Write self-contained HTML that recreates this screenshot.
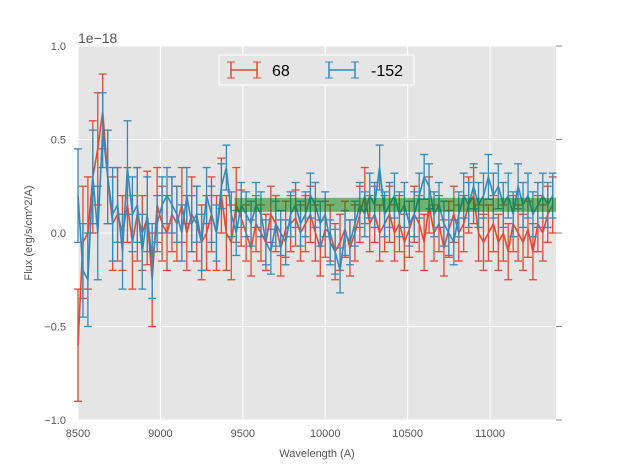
<!DOCTYPE html>
<html><head><meta charset="utf-8"><style>
body{margin:0;background:#fff;font-family:"Liberation Sans",sans-serif}
svg{display:block}
</style></head><body>
<svg id="chart" width="617" height="467" xmlns="http://www.w3.org/2000/svg">
<rect x="78" y="46" width="478" height="374" fill="#e5e5e5"/>
<g id="grid"></g><g id="series"></g><g id="axes"></g>
<text x="78" y="43" font-size="14" fill="#555">1e−18</text>
<text transform="translate(32,233) rotate(-90)" text-anchor="middle" font-size="11" fill="#555">Flux (erg/s/cm^2/A)</text>
<text x="317" y="457" text-anchor="middle" font-size="11" fill="#555">Wavelength (A)</text>
<g>
<rect x="219" y="55" width="195" height="30" fill="#e5e5e5" stroke="#fff" stroke-width="1"/>
<g>
<line x1="231" y1="70" x2="257" y2="70" stroke="#E24A33" stroke-width="1.5"/><line x1="231" y1="62" x2="231" y2="78" stroke="#E24A33" stroke-width="1.5"/><line x1="257" y1="62" x2="257" y2="78" stroke="#E24A33" stroke-width="1.5"/><line x1="227" y1="62" x2="235" y2="62" stroke="#E24A33"/><line x1="227" y1="78" x2="235" y2="78" stroke="#E24A33"/><line x1="253" y1="62" x2="261" y2="62" stroke="#E24A33"/><line x1="253" y1="78" x2="261" y2="78" stroke="#E24A33"/>
<text x="272" y="76" font-size="16" fill="#000">68</text></g>
<g>
<line x1="329" y1="70" x2="355" y2="70" stroke="#348ABD" stroke-width="1.5"/><line x1="329" y1="62" x2="329" y2="78" stroke="#348ABD" stroke-width="1.5"/><line x1="355" y1="62" x2="355" y2="78" stroke="#348ABD" stroke-width="1.5"/><line x1="325" y1="62" x2="333" y2="62" stroke="#348ABD"/><line x1="325" y1="78" x2="333" y2="78" stroke="#348ABD"/><line x1="351" y1="62" x2="359" y2="62" stroke="#348ABD"/><line x1="351" y1="78" x2="359" y2="78" stroke="#348ABD"/>
<text x="371" y="76" font-size="16" fill="#000">-152</text></g>
</g>
</svg>
<script>
const xTicks=[8500,9000,9500,10000,10500,11000];
const yTicks=[-1.0,-0.5,0.0,0.5,1.0];
const yTickLabels=["−1.0","−0.5","0.0","0.5","1.0"];
const wlStart=8500, wlEnd=11380;
const redVals=[-0.6,-0.05,0.0,0.3,0.45,0.65,0.3,0.05,0.1,0.0,0.15,-0.05,0.1,0.0,0.08,-0.25,0.15,0.05,0.0,0.1,0.05,0.15,0.0,0.1,0.05,-0.05,0.0,0.1,0.0,0.2,0.0,-0.05,0.15,0.08,0.0,-0.08,0.05,0.0,-0.05,0.1,0.05,-0.08,0.02,0.05,0.08,0.0,0.05,0.1,0.0,-0.08,0.02,0.0,-0.1,-0.05,0.02,-0.08,0.0,0.1,0.2,0.05,0.1,0.0,0.05,0.1,0.0,0.05,-0.05,0.02,0.1,0.05,-0.05,0.15,0.0,0.05,-0.08,0.02,0.1,0.0,0.05,0.15,0.2,0.0,-0.05,0.0,0.05,-0.05,0.0,-0.1,0.05,0.0,-0.05,0.02,-0.1,0.05,0.0,0.1,0.15];
const blueVals=[0.2,-0.2,-0.25,0.3,0.0,0.55,0.3,0.1,0.15,-0.1,0.35,0.1,0.15,-0.1,0.1,-0.15,0.05,0.15,0.2,0.15,0.1,0.0,0.2,0.05,0.1,-0.05,0.2,0.1,0.0,0.25,0.35,0.1,0.0,0.15,0.1,0.05,0.15,0.1,-0.05,-0.1,0.05,0.0,-0.05,0.1,0.15,0.05,0.1,0.2,0.15,0.05,0.1,-0.05,-0.1,-0.2,0.0,-0.05,0.05,0.15,0.1,0.2,0.15,0.35,0.1,0.15,0.2,0.1,0.15,0.05,0.1,0.2,0.3,0.25,0.1,0.15,0.05,0.0,-0.05,0.1,0.2,0.15,0.25,0.15,0.2,0.3,0.2,0.25,0.15,0.2,0.1,0.25,0.15,0.2,0.1,0.15,0.2,0.15,0.2];
const redErr=[0.3,0.3,0.3,0.3,0.3,0.2,0.25,0.25,0.25,0.2,0.2,0.25,0.25,0.2,0.25,0.25,0.2,0.2,0.2,0.2,0.2,0.2,0.2,0.2,0.2,0.2,0.2,0.2,0.2,0.2,0.2,0.2,0.2,0.15,0.15,0.15,0.15,0.15,0.15,0.15,0.15,0.15,0.15,0.15,0.15,0.15,0.15,0.15,0.15,0.15,0.15,0.15,0.15,0.15,0.15,0.15,0.15,0.15,0.15,0.15,0.15,0.15,0.15,0.15,0.15,0.15,0.15,0.15,0.15,0.15,0.15,0.15,0.15,0.15,0.15,0.15,0.15,0.15,0.15,0.15,0.15,0.15,0.15,0.15,0.15,0.15,0.15,0.15,0.15,0.15,0.15,0.15,0.15,0.15,0.15,0.15,0.15];
const blueErr=[0.25,0.25,0.25,0.25,0.25,0.2,0.25,0.25,0.2,0.2,0.25,0.2,0.2,0.2,0.2,0.2,0.15,0.15,0.15,0.15,0.15,0.15,0.15,0.15,0.15,0.15,0.15,0.15,0.15,0.12,0.12,0.12,0.12,0.12,0.12,0.12,0.12,0.12,0.12,0.12,0.12,0.12,0.12,0.12,0.12,0.12,0.12,0.12,0.12,0.12,0.12,0.12,0.12,0.12,0.12,0.12,0.12,0.12,0.12,0.12,0.12,0.12,0.12,0.12,0.12,0.12,0.12,0.12,0.12,0.12,0.12,0.12,0.12,0.12,0.12,0.12,0.12,0.12,0.12,0.12,0.12,0.12,0.12,0.12,0.12,0.12,0.12,0.12,0.12,0.12,0.12,0.12,0.12,0.12,0.12,0.12,0.12];
const band=[9450,11400,0.113,0.188];
const NS="http://www.w3.org/2000/svg";
const X=v=>78+(v-8500)*(478/2900);
const Y=v=>233-v*187;
function mk(t,a,p){const e=document.createElementNS(NS,t);for(const k in a)e.setAttribute(k,a[k]);p.appendChild(e);return e;}
const grid=document.getElementById('grid'),axes=document.getElementById('axes'),ser=document.getElementById('series');
xTicks.forEach(t=>{
 const l=mk('line',{x1:X(t),x2:X(t),y1:46,y2:420,stroke:'#fff','stroke-width':1},grid);
 
 
 const tx=mk('text',{x:X(t),y:437,'text-anchor':'middle','font-size':11,fill:'#555'},axes);tx.textContent=t;
 
 
});
yTicks.forEach((t,i)=>{
 const l=mk('line',{x1:78,x2:556,y1:Y(t),y2:Y(t),stroke:'#fff','stroke-width':1},grid);
 
 
 mk('line',{x1:556,x2:562,y1:Y(t),y2:Y(t),stroke:'#888'},axes);
 const tx=mk('text',{x:66,y:Y(t)+4,'text-anchor':'end','font-size':11,fill:'#555'},axes);tx.textContent=yTickLabels[i];
 
 
});
function drawSeries(vals,errs,col,name){
 const g=mk('g',{},ser);
 
 
 const n=vals.length,step=(wlEnd-wlStart)/(n-1);
 let d='';
 vals.forEach((v,i)=>{
  const x=X(wlStart+i*step),y1=Y(v+errs[i]),y2=Y(v-errs[i]);
  mk('line',{x1:x,x2:x,y1:y1,y2:y2,stroke:col,'stroke-width':1.3},g);
  mk('line',{x1:x-4,x2:x+4,y1:y1,y2:y1,stroke:col,'stroke-width':1.3},g);
  mk('line',{x1:x-4,x2:x+4,y1:y2,y2:y2,stroke:col,'stroke-width':1.3},g);
  d+=(i?'L':'M')+x.toFixed(1)+','+Y(v).toFixed(1);
 });
 mk('path',{d:d,fill:'none',stroke:col,'stroke-width':1.6},g);
}
drawSeries(redVals,redErr,'#E24A33','series-68');
drawSeries(blueVals,blueErr,'#348ABD','series-neg152');
const b=mk('rect',{x:X(band[0]),y:Y(band[3]),width:Math.min(X(band[1]),556)-X(band[0]),height:Y(band[2])-Y(band[3]),fill:'green','fill-opacity':0.5},ser);


</script>
</body></html>
